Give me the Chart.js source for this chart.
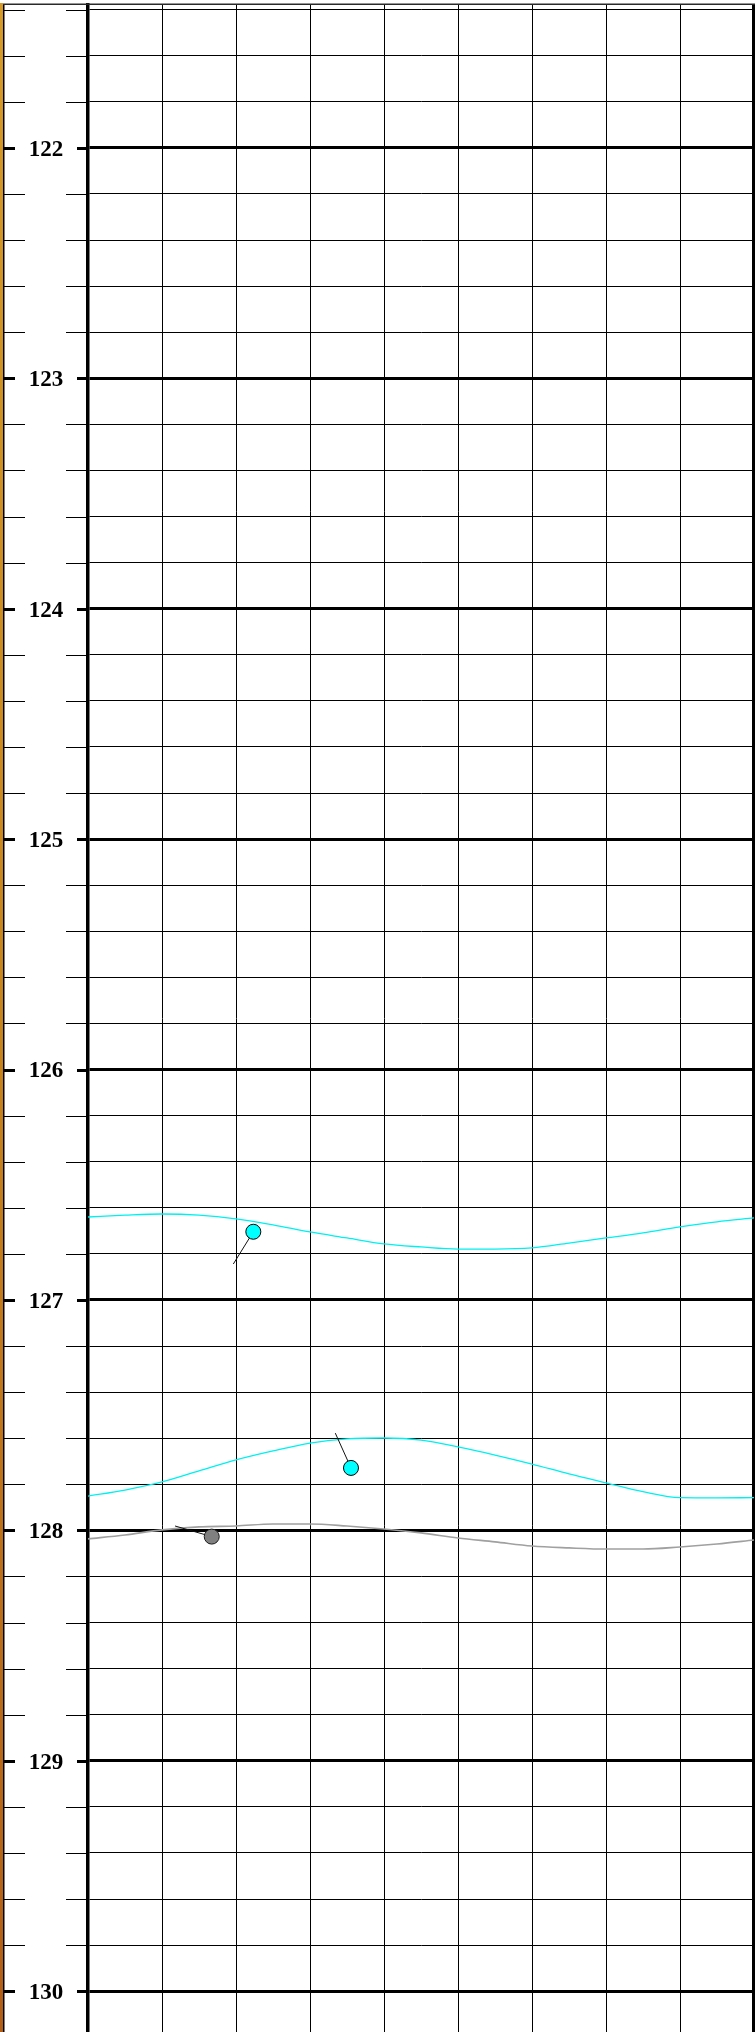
<!DOCTYPE html>
<html>
<head>
<meta charset="utf-8">
<script src="https://cdn.jsdelivr.net/npm/chart.js@4.4.1/dist/chart.umd.min.js"></script>
<style>
  html, body { margin: 0; padding: 0; background: #ffffff; }
  #wrap { width: 755px; height: 2032px; position: relative; }
  canvas { display: block; }
</style>
</head>
<body>
<div id="wrap"><canvas id="chart" width="755" height="2032"></canvas></div>
<script>
// Horizontal position of the sampled curve points (0 .. 9, half steps)
const curveX = [0, 0.5, 1, 1.5, 2, 2.5, 3, 3.5, 4, 4.5, 5, 5.5, 6, 6.5, 7, 7.5, 8, 8.5, 9];

// Upper cyan track
const cyanTrackA = [126.640, 126.632, 126.627, 126.632, 126.648, 126.674, 126.705, 126.731, 126.757,
                    126.770, 126.779, 126.779, 126.774, 126.753, 126.731, 126.709, 126.683, 126.661, 126.644];
// Lower cyan track
const cyanTrackB = [127.851, 127.825, 127.790, 127.742, 127.694, 127.655, 127.621, 127.603, 127.599,
                    127.608, 127.638, 127.673, 127.712, 127.755, 127.794, 127.832, 127.858, 127.859, 127.858];
// Grey track
const greyTrack  = [128.037, 128.020, 127.998, 127.985, 127.981, 127.972, 127.972, 127.981, 127.994,
                    128.011, 128.033, 128.050, 128.068, 128.076, 128.081, 128.081, 128.072, 128.059, 128.042];

// Current positions of the bodies
const cyanBodiesX = [2.234, 3.554];
const cyanBodiesY = [126.704, 127.729];
const greyBodyX = [1.672];
const greyBodyY = [128.027];

// Motion tails, drawn from each body outward
const cyanTailEndX = [1.964, 3.342];
const cyanTailEndY = [126.844, 127.578];
const greyTailEndX = [1.176];
const greyTailEndY = [127.981];

// Vertical axis
const yMin = 121.38;
const yMax = 130.177;
const yLabels = [122, 123, 124, 125, 126, 127, 128, 129, 130];
const yMinorStep = 0.2;
const xMin = 0;
const xMax = 9;

const yTickValues = [];
for (let v = 121.4; v <= yMax + 1e-9; v += yMinorStep) yTickValues.push(Math.round(v * 10) / 10);

const isMajor = v => yLabels.some(l => Math.abs(l - v) < 1e-6);

const toPoints = (xs, ys) => xs.map((x, i) => ({ x: x, y: ys[i] }));

const tailSets = [];
cyanBodiesX.forEach((x, i) => tailSets.push([{ x: x, y: cyanBodiesY[i] }, { x: cyanTailEndX[i], y: cyanTailEndY[i] }]));
greyBodyX.forEach((x, i) => tailSets.push([{ x: x, y: greyBodyY[i] }, { x: greyTailEndX[i], y: greyTailEndY[i] }]));

const datasets = [
  { label: 'cyan bodies', data: toPoints(cyanBodiesX, cyanBodiesY), showLine: false,
    pointRadius: 7.5, pointBackgroundColor: '#00ffff', pointBorderColor: '#000000', pointBorderWidth: 1, order: 0 },
  { label: 'grey body', data: toPoints(greyBodyX, greyBodyY), showLine: false,
    pointRadius: 7.5, pointBackgroundColor: '#808080', pointBorderColor: '#1a1a1a', pointBorderWidth: 1, order: 0 }
];
tailSets.forEach((seg, i) => datasets.push({
  label: 'tail ' + i, data: seg, showLine: true, borderColor: '#111111', borderWidth: 1,
  pointRadius: 0, order: 1
}));
datasets.push(
  { label: 'track A', data: toPoints(curveX, cyanTrackA), showLine: true, borderColor: '#00f0f0',
    borderWidth: 1.3, pointRadius: 0, cubicInterpolationMode: 'monotone', order: 2 },
  { label: 'track B', data: toPoints(curveX, cyanTrackB), showLine: true, borderColor: '#00f0f0',
    borderWidth: 1.3, pointRadius: 0, cubicInterpolationMode: 'monotone', order: 2 },
  { label: 'track grey', data: toPoints(curveX, greyTrack), showLine: true, borderColor: '#a0a0a0',
    borderWidth: 1.6, pointRadius: 0, cubicInterpolationMode: 'monotone', order: 2 }
);

// Frame, left strip, and the split tick marks with bold labels
const framePlugin = {
  id: 'frame',
  afterDraw(chart) {
    const ctx = chart.ctx;
    const area = chart.chartArea;
    const ys = chart.scales.y;
    ctx.save();

    // textured edge strip on the far left
    const g = ctx.createLinearGradient(0, 0, 0, chart.height);
    g.addColorStop(0, '#d69a28');
    g.addColorStop(0.5, '#c8841c');
    g.addColorStop(1, '#b35e16');
    ctx.fillStyle = g;
    ctx.fillRect(0, area.top - 2, 3, chart.height);
    ctx.fillStyle = '#000000';
    ctx.fillRect(3, area.top - 1, 1.5, chart.height);

    // top frame line
    ctx.strokeStyle = '#2a2a2a';
    ctx.lineWidth = 1.5;
    ctx.beginPath();
    ctx.moveTo(3, area.top - 0.75);
    ctx.lineTo(chart.width, area.top - 0.75);
    ctx.stroke();

    // tick marks in the label column
    ctx.strokeStyle = '#000000';
    yTickValues.forEach(v => {
      const py = Math.round(ys.getPixelForValue(v)) + 0.5;
      const major = isMajor(v);
      ctx.lineWidth = major ? 3 : 1;
      ctx.beginPath();
      if (major) {
        ctx.moveTo(4, py); ctx.lineTo(15, py);
        ctx.moveTo(77, py); ctx.lineTo(area.left, py);
      } else {
        ctx.moveTo(4, py); ctx.lineTo(25, py);
        ctx.moveTo(66, py); ctx.lineTo(area.left, py);
      }
      ctx.stroke();
    });

    // labels
    ctx.fillStyle = '#000000';
    ctx.font = 'bold 23px "Liberation Serif", "Times New Roman", serif';
    ctx.textAlign = 'center';
    ctx.textBaseline = 'middle';
    yLabels.forEach(l => {
      const py = ys.getPixelForValue(l);
      ctx.fillText(String(l), 46, py + 2);
    });
    ctx.restore();
  }
};

new Chart(document.getElementById('chart'), {
  type: 'scatter',
  data: { datasets: datasets },
  options: {
    responsive: false,
    animation: false,
    layout: { autoPadding: false, padding: { top: 5, right: 1, bottom: 0, left: 0 } },
    plugins: { legend: { display: false }, tooltip: { enabled: false } },
    scales: {
      x: {
        type: 'linear', position: 'bottom', min: xMin, max: xMax,
        ticks: { display: false, stepSize: 1 },
        border: { display: false },
        grid: {
          drawTicks: false,
          color: '#000000',
          lineWidth: c => (c.tick && c.tick.value === xMax ? 3.5 : (c.tick && c.tick.value === xMin ? 0 : 1))
        },
        afterFit: s => { s.height = 0; }
      },
      y: {
        type: 'linear', position: 'left', reverse: true, min: yMin, max: yMax,
        afterBuildTicks: s => { s.ticks = yTickValues.map(v => ({ value: v })); },
        ticks: { display: false },
        border: { display: true, color: '#000000', width: 3.5 },
        grid: {
          drawTicks: false,
          color: '#000000',
          lineWidth: c => (c.tick && isMajor(c.tick.value) ? 3 : 1)
        },
        afterFit: s => { s.width = 88; }
      }
    }
  },
  plugins: [framePlugin]
});
</script>
</body>
</html>
